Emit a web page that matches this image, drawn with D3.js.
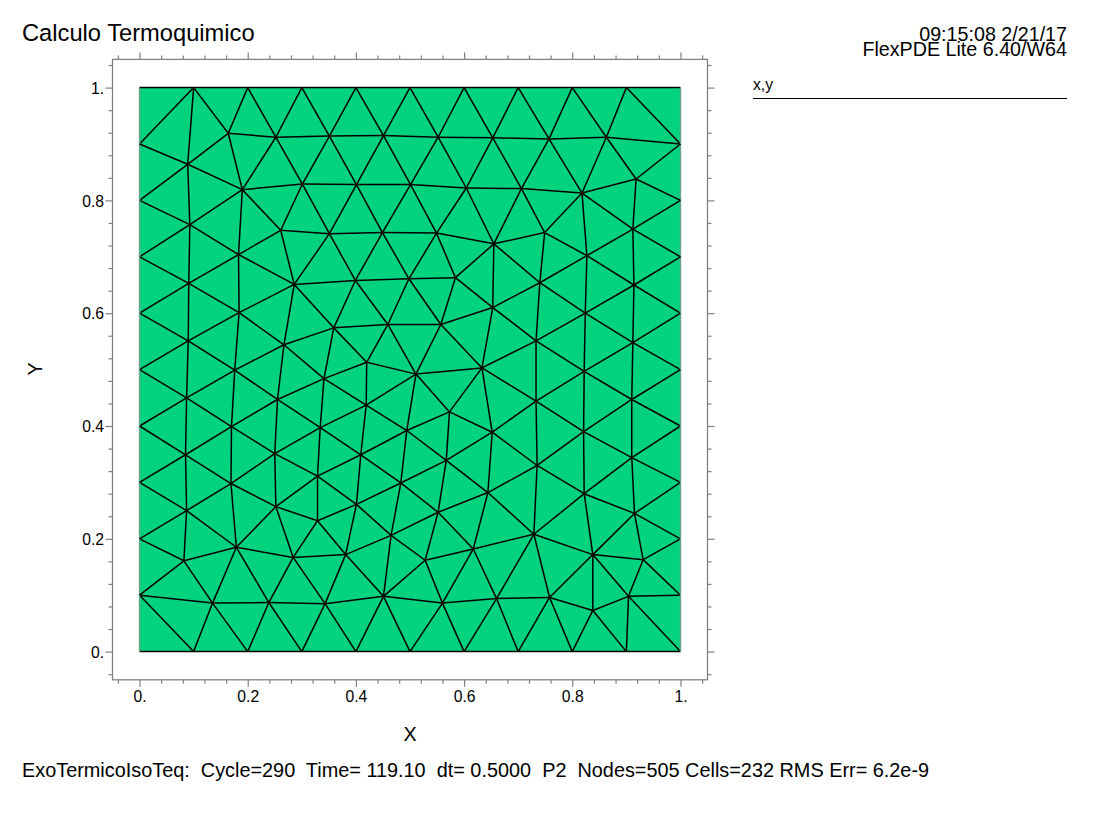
<!DOCTYPE html>
<html>
<head>
<meta charset="utf-8">
<script src="https://cdn.jsdelivr.net/npm/d3@7"></script>
<style>
  body { margin: 0; background: white; }
  text { font-family: "Liberation Sans", sans-serif; fill: black; }
</style>
</head>
<body>
<div class="plot"></div>
<script>
/* boundary nodes of the mesh, corners included */
const boundaryX = [0,.1,.2,.3,.4,.5,.6,.7,.8,.9,1, 1,1,1,1,1,1,1,1,1,1, .9,.8,.7,.6,.5,.4,.3,.2,.1,0, 0,0,0,0,0,0,0,0,0];
const boundaryY = [1,1,1,1,1,1,1,1,1,1,1, .9,.8,.7,.6,.5,.4,.3,.2,.1,0, 0,0,0,0,0,0,0,0,0,0, .1,.2,.3,.4,.5,.6,.7,.8,.9];

/* interior nodes */
const interiorX = [
  .164,.252,.351,.451,.552,.653,.757,.863,
  .089,.190,.301,.401,.501,.604,.706,.818,.918,
  .093,.261,.351,.449,.549,.655,.749,.912,
  .183,.091,.286,.399,.498,.584,.827,.740,.914,
  .653,.824,.557,.459,.359,.184,.090,.267,.912,.733,.633,.420,
  .176,.255,.341,.511,.087,.419,.170,.334,.494,.085,.250,.409,.329,.483,.169,.087,.252,.401,.329,.465,.179,.082,.381,.284,.135,.239,.343,.451,
  .733,.822,.910,.573,.652,.821,.567,.735,.910,.644,.822,.552,.915,.729,.617,.528,.838,.931,.758,.904,.660,.560,.838
];
const interiorY = [
  .919,.912,.914,.915,.912,.911,.909,.912,
  .864,.819,.829,.828,.828,.822,.821,.813,.838,
  .757,.747,.741,.743,.742,.723,.743,.749,
  .704,.653,.651,.658,.661,.663,.702,.654,.650,
  .610,.600,.580,.580,.574,.601,.551,.544,.548,.551,.503,.513,
  .499,.447,.484,.492,.450,.437,.399,.397,.392,.349,.351,.349,.311,.299,.298,.250,.257,.261,.232,.206,.185,.161,.172,.167,.086,.087,.085,.098,
  .444,.497,.447,.425,.389,.390,.339,.330,.344,.282,.280,.247,.245,.208,.182,.162,.172,.163,.096,.098,.094,.086,.073
];

const tickValues = [0, .2, .4, .6, .8, 1];
const tickLabels = ["0.", "0.2", "0.4", "0.6", "0.8", "1."];
const minorValues = [-.04, .04, .08, .12, .16, .24, .28, .32, .36, .44, .48, .52, .56, .64, .68, .72, .76, .84, .88, .92, .96, 1.04];

const svg = d3.select(".plot").append("svg")
  .attr("width", 1100)
  .attr("height", 825);

const xScale = d3.scaleLinear().domain([-.05, 1.05]).range([112.5, 707.5]);
const yScale = d3.scaleLinear().domain([-.05, 1.05]).range([679.8, 59.4]);

/* green domain */
svg.append("rect")
  .attr("x", xScale(0))
  .attr("y", yScale(1))
  .attr("width", xScale(1) - xScale(0))
  .attr("height", yScale(0) - yScale(1))
  .attr("fill", "#00d27d");

/* mesh edges */
const nodeX = boundaryX.concat(interiorX);
const nodeY = boundaryY.concat(interiorY);
const delaunay = d3.Delaunay.from(nodeX.map((x, i) => [x, nodeY[i]]));
const edges = [];
const tri = delaunay.triangles, half = delaunay.halfedges;
for (let e = 0; e < half.length; e++) {
  const next = e % 3 === 2 ? e - 2 : e + 1;
  if (e < half[e] || half[e] < 0) edges.push([tri[e], tri[next]]);
}

svg.append("g").selectAll("line")
  .data(edges)
  .join("line")
  .attr("x1", d => xScale(nodeX[d[0]]))
  .attr("y1", d => yScale(nodeY[d[0]]))
  .attr("x2", d => xScale(nodeX[d[1]]))
  .attr("y2", d => yScale(nodeY[d[1]]))
  .attr("stroke", d => (nodeX[d[0]] === nodeX[d[1]] && (nodeX[d[0]] === 0 || nodeX[d[0]] === 1)) ? "#6aa688" : "black")
  .attr("stroke-width", 1.5);

/* frame */
svg.append("rect")
  .attr("x", xScale.range()[0])
  .attr("y", yScale.range()[1])
  .attr("width", xScale.range()[1] - xScale.range()[0])
  .attr("height", yScale.range()[0] - yScale.range()[1])
  .attr("fill", "none")
  .attr("stroke", "#808080")
  .attr("stroke-width", 1.3);

/* ticks on all four sides */
function axis(gen, tx, ty, labels) {
  const major = svg.append("g")
    .attr("transform", `translate(${tx},${ty})`)
    .call(gen(7).tickValues(tickValues).tickFormat((d, i) => labels ? tickLabels[i] : ""));
  const minor = svg.append("g")
    .attr("transform", `translate(${tx},${ty})`)
    .call(gen(4).tickValues(minorValues).tickFormat(""));
  [major, minor].forEach(g => {
    g.select(".domain").remove();
    g.selectAll("line").attr("stroke", "#808080").attr("stroke-width", 1.2);
    g.selectAll("text").attr("font-size", 15.7).style("font-family", "Liberation Sans");
  });
  return major;
}
const bottom = axis(s => d3.axisBottom(xScale).tickSize(s).tickSizeOuter(0), 0, 679.8, true);
axis(s => d3.axisTop(xScale).tickSize(s).tickSizeOuter(0), 0, 59.4, false);
const left = axis(s => d3.axisLeft(yScale).tickSize(s).tickSizeOuter(0), 112.5, 0, true);
axis(s => d3.axisRight(yScale).tickSize(s).tickSizeOuter(0), 707.5, 0, false);

bottom.selectAll("text").attr("y", 11.4);
left.selectAll("text").attr("x", -8.5).attr("dy", "0.36em");

/* titles and annotations */
const label = (x, y, size, str, anchor) => svg.append("text")
  .attr("x", x).attr("y", y)
  .attr("font-size", size)
  .attr("text-anchor", anchor || "start")
  .text(str);

label(22, 41, 23.7, "Calculo Termoquimico");
label(1067, 41, 19.7, "09:15:08 2/21/17", "end");
label(1067, 56, 19.7, "FlexPDE Lite 6.40/W64", "end");
label(753, 90, 15.7, "x,y");
svg.append("line")
  .attr("x1", 753).attr("x2", 1067)
  .attr("y1", 98.5).attr("y2", 98.5)
  .attr("stroke", "black");
label(410, 741, 19.7, "X", "middle");
label(0, 0, 19.7, "Y", "middle").attr("transform", "translate(42,369) rotate(-90)");
label(22, 776.5, 19.87, "ExoTermicoIsoTeq:  Cycle=290  Time= 119.10  dt= 0.5000  P2  Nodes=505 Cells=232 RMS Err= 6.2e-9").style("white-space", "pre");
</script>
</body>
</html>
